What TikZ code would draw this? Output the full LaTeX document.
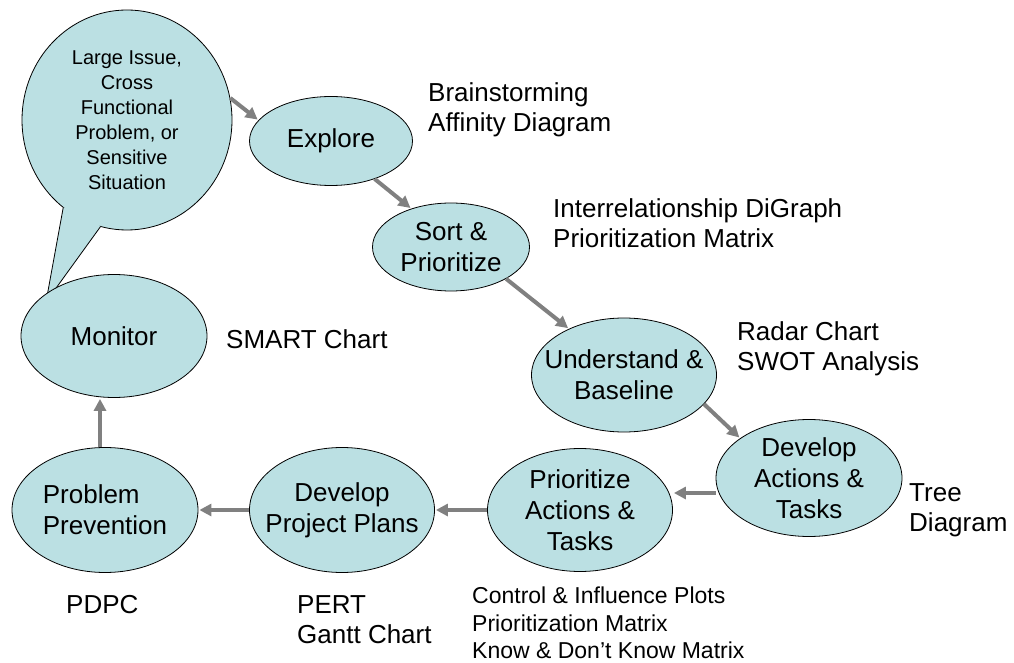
\documentclass[tikz,border=0pt]{standalone}
\usepackage{fontspec}
\setmainfont{Liberation Sans}
\usetikzlibrary{arrows.meta,calc,shapes.geometric}
\definecolor{stagefill}{RGB}{187,224,227}
\definecolor{flowgray}{RGB}{128,128,128}
\begin{document}
\begin{tikzpicture}[x=1pt,y=1pt,
	stage/.style={ellipse,draw=black,fill=stagefill,line width=.8pt,inner sep=-40pt,align=center,font=\fontsize{26}{31}\selectfont},
	tool/.style={anchor=north west,inner sep=0pt,align=left,font=\fontsize{26}{30}\selectfont},
	flow/.style={draw=flowgray,line width=4pt,shorten >=1pt,-{Triangle[length=12pt,width=12pt]}}]
	\useasboundingbox (0,0) rectangle (1014,662);
	
	\node[stage,minimum width=210pt,minimum height=220pt,font=\fontsize{20}{25}\selectfont] (bubble) at (127,542) {Large Issue,\\Cross\\Functional\\Problem, or\\Sensitive\\Situation};
	\coordinate (tip) at (46,360);
	\fill[stagefill] (bubble.234) -- (tip) -- (bubble.256) -- ($(bubble.245)!.15!(bubble.center)$) -- cycle;
	\draw[line width=.8pt] (bubble.234) -- (tip) (bubble.256) -- (tip);
	
	\node[stage,minimum width=163pt,minimum height=89pt] (explore) at (331,521) {Explore};
	\node[stage,minimum width=157pt,minimum height=88pt] (sort) at (451,415) {Sort \&\\Prioritize};
	\node[stage,minimum width=185pt,minimum height=114pt] (understand) at (624,287) {Understand \&\\Baseline};
	\node[stage,minimum width=186pt,minimum height=117pt] (devact) at (809,184) {Develop\\Actions \&\\Tasks};
	\node[stage,minimum width=185pt,minimum height=123pt] (prioact) at (580,152) {Prioritize\\Actions \&\\Tasks};
	\node[stage,minimum width=185pt,minimum height=125pt] (devproj) at (342,152) {Develop\\Project Plans};
	\node[stage,minimum width=186pt,minimum height=125pt,align=left] (probprev) at (105,152) {Problem\\Prevention};
	\node[stage,minimum width=186pt,minimum height=123pt] (monitor) at (114,326) {Monitor};
	
	\node[tool] (brainstorm) at (428,580) {Brainstorming\\Affinity Diagram};
	\node[tool] (digraph) at (553,464) {Interrelationship DiGraph\\Prioritization Matrix};
	\node[tool] (radar) at (737,341) {Radar Chart\\SWOT Analysis};
	\node[tool] (smart) at (226,333) {SMART Chart};
	\node[tool] (tree) at (909,179) {Tree\\Diagram};
	\node[tool] (pert) at (297,67) {PERT\\Gantt Chart};
	\node[tool] (pdpc) at (66,67) {PDPC};
	\node[tool,font=\fontsize{23}{27.5}\selectfont] (control) at (472,75) {Control \& Influence Plots\\Prioritization Matrix\\Know \& Don’t Know Matrix};
	
	\draw[flow] (bubble.12) -- (explore.164);
	\draw[flow] (explore.-41) -- (sort.136);
	\draw[flow] (sort.-30) -- (understand.140);
	\draw[flow] (understand.-20) -- (devact.150);
	\draw[flow] ([yshift=-15pt]devact.west) -- ([yshift=-15pt]devact.west -| prioact.east);
	\draw[flow] (prioact) -- (devproj);
	\draw[flow] (devproj) -- (probprev);
	\draw[flow] ([xshift=-5pt]probprev.north) -- ([xshift=-5pt]probprev.north |- monitor.south);
\end{tikzpicture}
\end{document}
